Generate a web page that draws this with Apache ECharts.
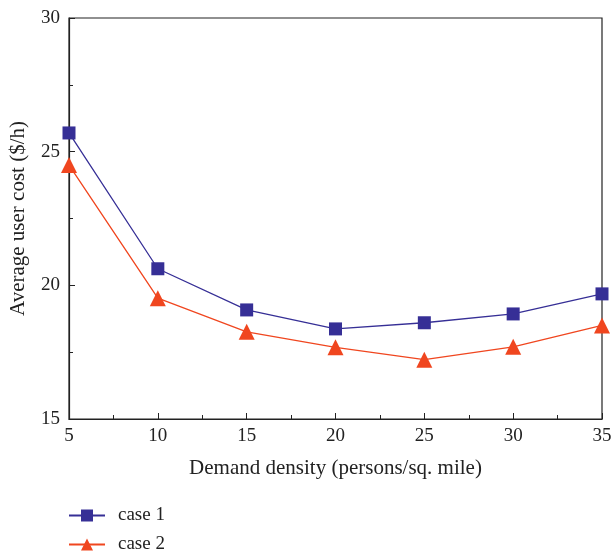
<!DOCTYPE html>
<html>
<head>
<meta charset="utf-8">
<script src="https://cdn.jsdelivr.net/npm/echarts@6/dist/echarts.min.js"></script>
<style>html,body{margin:0;padding:0;background:#fff}#c{width:611px;height:554px}</style>
</head>
<body>
<div id="c"></div>
<script>
var xValues = [5, 10, 15, 20, 25, 30, 35];
var case1 = [25.7, 20.62, 19.08, 18.37, 18.6, 18.93, 19.68];
var case2 = [24.5, 19.52, 18.26, 17.68, 17.22, 17.7, 18.5];
var seriesNames = ['case 1', 'case 2'];

var font = 'Liberation Serif';
var chart = echarts.init(document.getElementById('c'));
function pairs(v){ return xValues.map(function(x,i){ return [x, v[i]]; }); }
function legendAt(name, top){
  return {
    orient: 'vertical', left: 68, top: top, padding: 0,
    itemWidth: 36, itemHeight: 15,
    textStyle: {fontFamily: font, fontSize: 19, color: '#222', padding: [0, 0, 0, 8]},
    data: [name]
  };
}
chart.setOption({
  animation: false,
  backgroundColor: '#fff',
  grid: {left: 69, right: 9, top: 18, bottom: 135, outerBoundsMode: 'none', containLabel: false,
         show: true, borderColor: '#222', borderWidth: 1.2, backgroundColor: 'transparent'},
  xAxis: {
    type: 'value', min: 5, max: 35, interval: 5,
    name: 'Demand density (persons/sq. mile)', nameLocation: 'middle', nameGap: 39,
    nameTextStyle: {fontFamily: font, fontSize: 21, color: '#222'},
    axisLine: {lineStyle: {color: '#222', width: 1.2}},
    axisTick: {inside: true, length: 6, lineStyle: {color: '#222'}},
    minorTick: {show: true, splitNumber: 2, length: 4, lineStyle: {color: '#222'}},
    axisLabel: {fontFamily: font, fontSize: 19, color: '#222', margin: 8},
    splitLine: {show: false}
  },
  yAxis: {
    type: 'value', min: 15, max: 30, interval: 5,
    name: 'Average user cost ($/h)', nameLocation: 'middle', nameGap: 40,
    nameTextStyle: {fontFamily: font, fontSize: 21, color: '#222'},
    axisLine: {lineStyle: {color: '#222', width: 1.2}},
    axisTick: {inside: true, length: 6, lineStyle: {color: '#222'}},
    minorTick: {show: true, splitNumber: 2, length: 4, lineStyle: {color: '#222'}},
    axisLabel: {fontFamily: font, fontSize: 19, color: '#222', margin: 9},
    splitLine: {show: false}
  },
  legend: [legendAt(seriesNames[0], 506), legendAt(seriesNames[1], 535)],
  series: [
    {name: seriesNames[0], type: 'line', data: pairs(case1), symbol: 'rect', symbolSize: 13,
     itemStyle: {color: '#362f96'}, lineStyle: {color: '#362f96', width: 1.3}},
    {name: seriesNames[1], type: 'line', data: pairs(case2), symbol: 'triangle', symbolSize: 16,
     itemStyle: {color: '#f0461f'}, lineStyle: {color: '#f0461f', width: 1.3}}
  ]
});
</script>
</body>
</html>
